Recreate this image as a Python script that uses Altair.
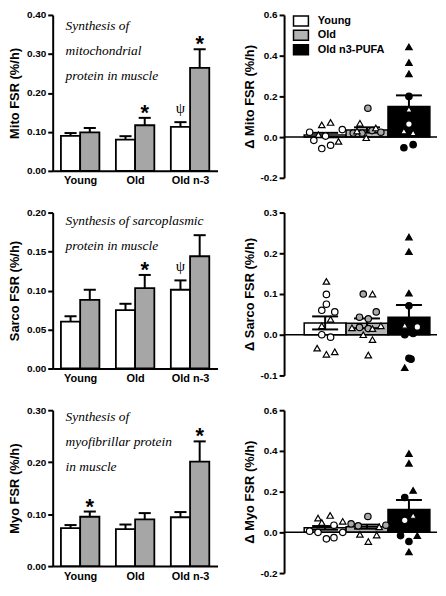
import altair as alt
import pandas as pd

FONT = "Liberation Sans"
HAND = "Liberation Serif"

groups = ["Young", "Old", "Old n-3"]
delta_groups = ["Young", "Old", "Old n3-PUFA"]

# ---- left panels: mean and upper end of error bar (white = before, gray = after)
mito_pre = [0.090, 0.080, 0.113]
mito_pre_hi = [0.097, 0.089, 0.125]
mito_post = [0.099, 0.117, 0.264]
mito_post_hi = [0.110, 0.136, 0.312]

sarco_pre = [0.060, 0.075, 0.101]
sarco_pre_hi = [0.067, 0.083, 0.113]
sarco_post = [0.088, 0.103, 0.144]
sarco_post_hi = [0.101, 0.120, 0.171]

myo_pre = [0.073, 0.071, 0.094]
myo_pre_hi = [0.079, 0.080, 0.104]
myo_post = [0.095, 0.090, 0.201]
myo_post_hi = [0.105, 0.102, 0.240]

mito_marks = [(1, "post", "*"), (2, "post", "*"), (2, "pre", "ψ")]
sarco_marks = [(1, "post", "*"), (2, "pre", "ψ")]
myo_marks = [(0, "post", "*"), (2, "post", "*")]

mito_note = ["Synthesis of", "mitochondrial", "protein in muscle"]
sarco_note = ["Synthesis of sarcoplasmic", "protein in muscle"]
myo_note = ["Synthesis of", "myofibrillar protein", "in muscle"]

# ---- right panels: delta mean and SEM
mito_d_mean = [0.010, 0.035, 0.150]
mito_d_sem = [0.011, 0.013, 0.055]
sarco_d_mean = [0.029, 0.028, 0.043]
sarco_d_sem = [0.016, 0.012, 0.030]
myo_d_mean = [0.022, 0.028, 0.112]
myo_d_sem = [0.009, 0.010, 0.047]

# individual deltas (group index, value, shape o=circle t=triangle, horizontal scatter)
mito_pg = [0] * 10 + [1] * 9 + [2] * 10
mito_pv = [0.024, -0.016, 0.060, -0.056, 0.005, 0.072, -0.040, -0.021, 0.037, 0.012,
           0.020, 0.068, 0.020, -0.003, 0.142, 0.032, 0.045, 0.024, 0.030,
           0.443, 0.366, 0.311, 0.200, 0.137, 0.064, 0.030, 0.021, -0.052, -0.037]
mito_ps = ["o", "o", "t", "o", "o", "t", "o", "t", "o", "t",
           "o", "t", "o", "t", "o", "o", "t", "o", "t",
           "t", "t", "t", "o", "t", "o", "t", "t", "o", "o"]
mito_pj = [-0.37, -0.27, -0.08, -0.08, 0.01, 0.13, 0.13, 0.32, 0.41, -0.16,
           -0.33, -0.17, -0.12, -0.02, 0.02, 0.12, 0.21, 0.33, -0.24,
           0, 0, 0, 0, 0, 0, -0.12, 0.10, -0.12, 0.10]

sarco_pg = [0] * 12 + [1] * 13 + [2] * 11
sarco_pv = [0.131, 0.099, 0.075, 0.060, 0.056, 0.038, 0.022, 0.000, -0.006, -0.033, -0.048, -0.042,
            0.100, 0.100, 0.056, 0.043, 0.039, 0.017, 0.018, 0.015, 0.015, 0.022, 0.000, -0.012, -0.050,
            0.240, 0.204, 0.102, 0.071, 0.023, 0.019, 0.000, 0.003, -0.058, -0.060, -0.081]
sarco_ps = ["t", "o", "o", "o", "o", "t", "t", "o", "o", "t", "t", "t",
            "o", "t", "o", "o", "o", "t", "o", "o", "t", "t", "t", "t", "t",
            "t", "t", "t", "o", "t", "o", "o", "o", "o", "o", "t"]
sarco_pj = [0.03, 0.03, 0.03, -0.08, 0.23, 0.13, -0.08, -0.08, 0.13, -0.19, 0.03, 0.23,
            -0.09, 0.13, 0.22, -0.18, 0.03, -0.36, -0.18, 0.03, 0.13, 0.33, -0.09, 0.13, 0.03,
            0, 0, 0, 0, -0.10, 0.20, -0.10, 0.10, 0, 0.05, -0.10]

myo_pg = [0] * 10 + [1] * 8 + [2] * 10
myo_pv = [0.006, 0.000, 0.070, 0.048, 0.083, -0.032, -0.026, 0.035, 0.000, 0.054,
          0.042, 0.032, 0.078, -0.010, -0.045, -0.013, 0.027, 0.035,
          0.387, 0.339, 0.206, 0.171, 0.083, 0.059, -0.016, -0.045, -0.016, -0.096]
myo_ps = ["o", "o", "t", "t", "t", "o", "o", "o", "o", "t",
          "o", "o", "o", "t", "t", "t", "t", "o",
          "t", "t", "t", "o", "t", "o", "o", "o", "t", "t"]
myo_pj = [-0.37, -0.17, -0.17, -0.08, 0.12, 0.03, 0.21, 0.21, 0.42, 0.42,
          -0.38, -0.21, 0.02, -0.17, 0.03, 0.23, 0.29, 0.45,
          0, 0, 0.10, -0.10, 0.10, -0.10, -0.20, 0, 0.20, 0]

LW, LH = 166, 157
RW, RH = 154, 164


def left_panel(pre, pre_hi, post, post_hi, marks, note, ymax, yvals, title, note_top):
    rows = []
    for i in range(3):
        rows.append(dict(g=i, kind="pre", mean=pre[i], hi=pre_hi[i]))
        rows.append(dict(g=i, kind="post", mean=post[i], hi=post_hi[i]))
    df = pd.DataFrame(rows)
    base = alt.Chart(df).transform_calculate(
        x0="datum.g + (datum.kind == 'pre' ? -0.35 : 0)",
        x1="datum.g + (datum.kind == 'pre' ? 0 : 0.35)",
        xc="datum.g + (datum.kind == 'pre' ? -0.175 : 0.175)",
        zero="0",
    ).transform_calculate(cl="datum.xc - 0.11", cr="datum.xc + 0.11")
    xs = alt.Scale(domain=[-0.5, 2.5], nice=False, zero=False)
    ys = alt.Scale(domain=[0, ymax], nice=False)
    xaxis = alt.Axis(values=[0, 1, 2], labelExpr="['Young','Old','Old n-3'][datum.value]",
                     ticks=False, title=None, labelFontSize=11, labelPadding=4, labelFlush=False,
                     labelOverlap=False)
    yaxis = alt.Axis(values=yvals, format=".2f", title=title, labelFontSize=10,
                     titleFontSize=13, tickSize=5, labelPadding=2, titlePadding=5,
                     labelOverlap=False)

    def X(f):
        return alt.X(f, scale=xs, axis=xaxis, title=None)

    def Y(f):
        return alt.Y(f, scale=ys, axis=yaxis, title=title)

    bars = base.mark_rect(stroke="black", strokeWidth=1.8).encode(
        x=X("x0:Q"), x2="x1:Q", y=Y("mean:Q"), y2="zero:Q",
        fill=alt.Fill("kind:N", scale=alt.Scale(domain=["pre", "post"], range=["white", "#a6a6a6"]), legend=None),
    )
    stem = base.mark_rule(color="black", strokeWidth=2).encode(x=X("xc:Q"), y=Y("mean:Q"), y2="hi:Q")
    cap = base.mark_rule(color="black", strokeWidth=2).encode(x=X("cl:Q"), x2="cr:Q", y=Y("hi:Q"))
    layers = [bars, stem, cap]
    for g, kind, sym in marks:
        hi = pre_hi[g] if kind == "pre" else post_hi[g]
        mdf = pd.DataFrame({"mx": [g + (-0.175 if kind == "pre" else 0.175)], "my": [hi], "sym": [sym]})
        if sym == "*":
            mk = alt.Chart(mdf).mark_text(font=FONT, fontWeight="bold", fontSize=22,
                                          baseline="alphabetic", dy=2, color="black")
        else:
            mk = alt.Chart(mdf).mark_text(font=HAND, fontSize=15, baseline="alphabetic",
                                          dy=-9, color="black")
        layers.append(mk.encode(x=X("mx:Q"), y=Y("my:Q"), text="sym:N"))
    for k, line in enumerate(note):
        layers.append(
            alt.Chart(pd.DataFrame({"t": [line]})).mark_text(
                font=HAND, fontStyle="italic", fontSize=13.5, align="left", baseline="middle", color="black"
            ).encode(x=alt.value(13), y=alt.value(note_top + 25 * k), text="t:N")
        )
    return alt.layer(*layers).properties(width=LW, height=LH)


def tone(g, v, s, mean):
    if g == 2:
        return "open" if 0.01 < v < mean else "solid"
    if g == 1 and s == "o":
        return "gray"
    return "open"


def right_panel(mean, sem, pg, pv, ps, pj, ydom, yvals, title, legend):
    bdf = pd.DataFrame({"g": [0, 1, 2], "name": delta_groups, "mean": mean,
                        "lo": [m - s for m, s in zip(mean, sem)],
                        "hi": [m + s for m, s in zip(mean, sem)]})
    base = alt.Chart(bdf).transform_calculate(
        b0="datum.g - 0.5", b1="datum.g + 0.5", zero="0",
        cl="datum.g - 0.31", cr="datum.g + 0.31")
    xs = alt.Scale(domain=[-0.98, 2.67], nice=False, zero=False)
    ys = alt.Scale(domain=ydom, nice=False)
    yaxis = alt.Axis(values=yvals, format=".1f", labelExpr="replace(datum.label, '\u2212', '-')",
                     title=title, labelFontSize=10, titleFontSize=13, tickSize=5,
                     labelPadding=2, titlePadding=4, labelOverlap=False)

    def X(f):
        return alt.X(f, scale=xs, axis=None)

    def Y(f):
        return alt.Y(f, scale=ys, axis=yaxis, title=title)

    fill_scale = alt.Scale(domain=delta_groups, range=["white", "#b3b3b3", "black"])
    bars = base.mark_rect(stroke="black", strokeWidth=1.5).encode(
        x=X("b0:Q"), x2="b1:Q", y=Y("mean:Q"), y2="zero:Q",
        fill=alt.Fill("name:N", scale=fill_scale, legend=None),
    )
    zline = alt.Chart(pd.DataFrame({"z": [0]})).mark_rule(color="black", strokeWidth=1.5).encode(y=Y("z:Q"))
    stem = base.mark_rule(color="black", strokeWidth=2).encode(x=X("g:Q"), y=Y("lo:Q"), y2="hi:Q")
    caph = base.mark_rule(color="black", strokeWidth=2).encode(x=X("cl:Q"), x2="cr:Q", y=Y("hi:Q"))
    capl = base.mark_rule(color="black", strokeWidth=2).encode(x=X("cl:Q"), x2="cr:Q", y=Y("lo:Q"))
    pdf = pd.DataFrame({"g": pg, "v": pv, "s": ps, "j": pj})
    pdf["px"] = pdf["g"] + pdf["j"]
    pdf["tone"] = [tone(g, v, s, mean[g]) for g, v, s in zip(pg, pv, ps)]
    pts = alt.Chart(pdf).mark_point(filled=True, size=42, stroke="black", strokeWidth=1.2, opacity=1).encode(
        x=X("px:Q"),
        y=Y("v:Q"),
        shape=alt.Shape("s:N", scale=alt.Scale(domain=["o", "t"], range=["circle", "triangle-up"]), legend=None),
        fill=alt.Fill("tone:N", scale=alt.Scale(domain=["open", "gray", "solid"], range=["white", "#a9a9a9", "black"]),
                      legend=None),
    )
    layers = [bars, zline, stem, caph, capl, pts]
    if legend:
        fills = ["white", "#b3b3b3", "black"]
        for k, name in enumerate(delta_groups):
            ldf = pd.DataFrame({"name": [name]})
            layers.append(alt.Chart(ldf).mark_rect(
                stroke="black", strokeWidth=1.5, width=15, height=10, fill=fills[k]
            ).encode(x=alt.value(17), y=alt.value(6 + 14.5 * k)))
            layers.append(alt.Chart(ldf).mark_text(
                font=FONT, fontWeight="bold", fontSize=11, align="left", baseline="middle", color="black"
            ).encode(x=alt.value(34), y=alt.value(6 + 14.5 * k), text="name:N"))
    return alt.layer(*layers).resolve_scale(fill="independent").properties(width=RW, height=RH)


row1 = alt.hconcat(
    left_panel(mito_pre, mito_pre_hi, mito_post, mito_post_hi, mito_marks, mito_note, 0.40,
               [0, 0.1, 0.2, 0.3, 0.4], "Mito FSR (%/h)", 11),
    right_panel(mito_d_mean, mito_d_sem, mito_pg, mito_pv, mito_ps, mito_pj, [-0.2, 0.6],
                [-0.2, 0, 0.2, 0.4, 0.6], "\u0394 Mito FSR (%/h)", True),
    spacing=25,
)
row2 = alt.hconcat(
    left_panel(sarco_pre, sarco_pre_hi, sarco_post, sarco_post_hi, sarco_marks, sarco_note, 0.20,
               [0, 0.05, 0.1, 0.15, 0.2], "Sarco FSR (%/h)", 9),
    right_panel(sarco_d_mean, sarco_d_sem, sarco_pg, sarco_pv, sarco_ps, sarco_pj, [-0.1, 0.3],
                [-0.1, 0, 0.1, 0.2, 0.3], "\u0394 Sarco FSR (%/h)", False),
    spacing=25,
)
row3 = alt.hconcat(
    left_panel(myo_pre, myo_pre_hi, myo_post, myo_post_hi, myo_marks, myo_note, 0.30,
               [0, 0.1, 0.2, 0.3], "Myo FSR (%/h)", 7),
    right_panel(myo_d_mean, myo_d_sem, myo_pg, myo_pv, myo_ps, myo_pj, [-0.2, 0.6],
                [-0.2, 0, 0.2, 0.4, 0.6], "\u0394 Myo FSR (%/h)", False),
    spacing=25,
)

chart = alt.vconcat(row1, row2, row3, spacing=22).properties(
    padding={"left": 0, "top": 0, "right": 0, "bottom": 0}, background="white"
).configure_view(stroke=None).configure_axis(
    labelFont=FONT, titleFont=FONT, labelFontWeight="bold", titleFontWeight="bold",
    labelColor="black", titleColor="black", domainColor="black", tickColor="black",
    domainWidth=2, tickWidth=2, grid=False, labelOverlap=False,
)

chart.save("out.html", embed_options={"renderer": "svg", "actions": False})
